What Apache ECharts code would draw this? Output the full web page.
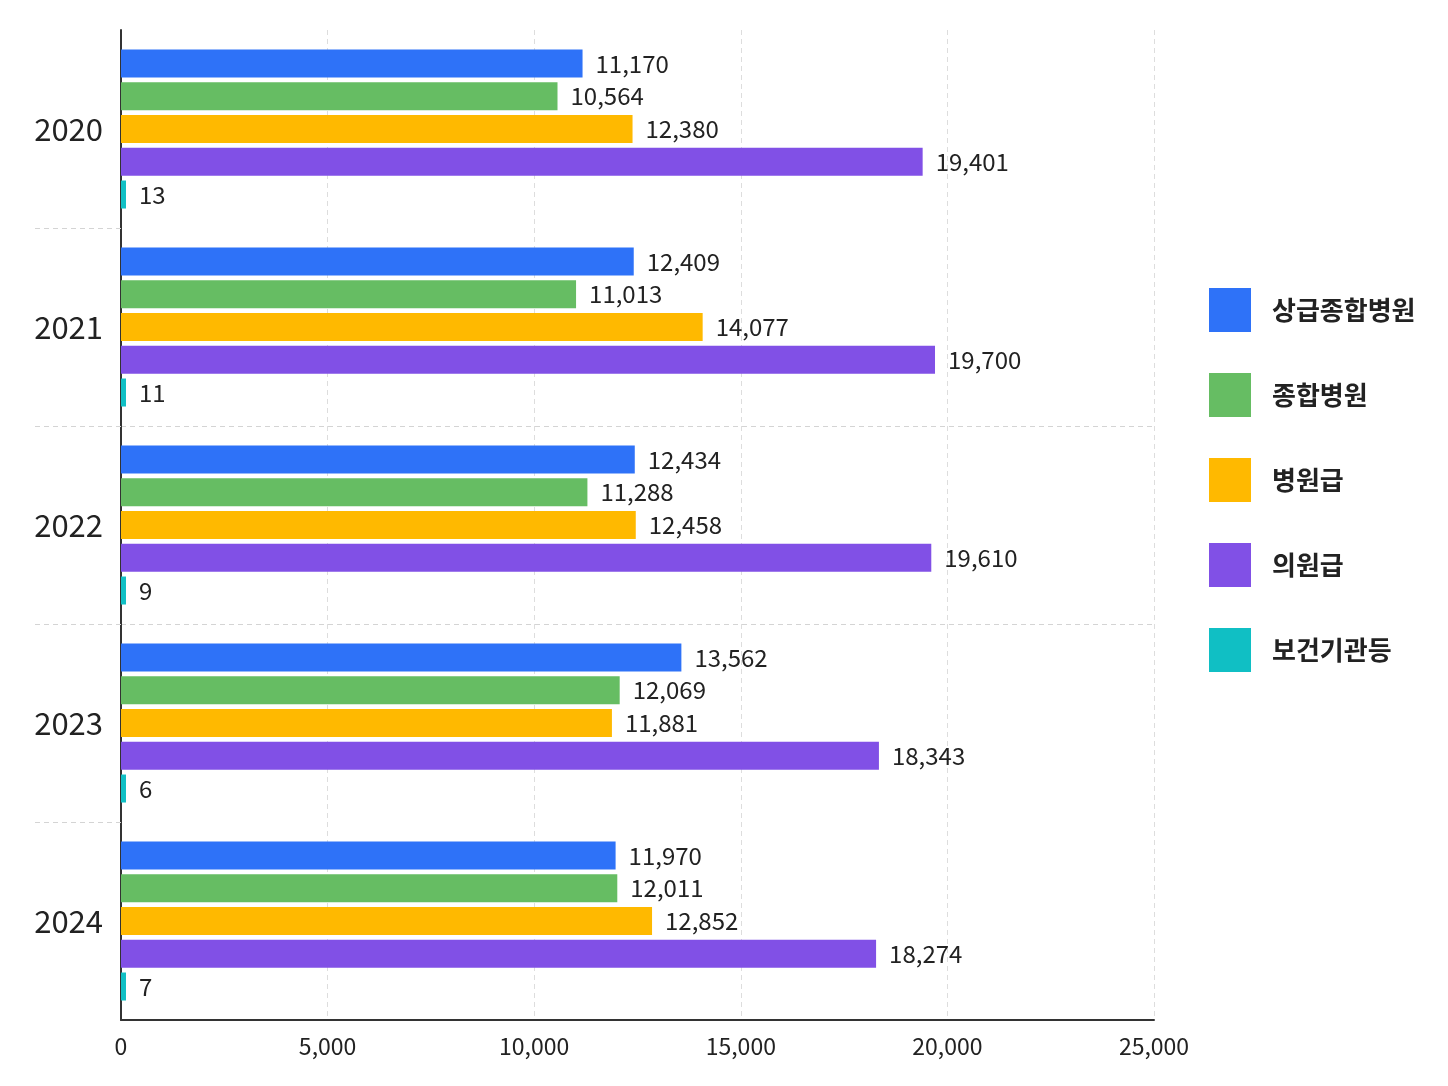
<!DOCTYPE html>
<html><head><meta charset="utf-8">
<script src="https://cdn.jsdelivr.net/npm/echarts@6/dist/echarts.min.js"></script>
<style>html,body{margin:0;padding:0;background:#fff}#c{width:1448px;height:1086px}</style>
</head><body><div id="c"></div>
<script>
const years = ['2020','2021','2022','2023','2024'];
const seriesNames = ['상급종합병원','종합병원','병원급','의원급','보건기관등'];
const tertiary = [11170, 12409, 12434, 13562, 11970];
const general = [10564, 11013, 11288, 12069, 12011];
const hospital = [12380, 14077, 12458, 11881, 12852];
const clinic = [19401, 19700, 19610, 18343, 18274];
const publicHealth = [13, 11, 9, 6, 7];
const xTicks = [0, 5000, 10000, 15000, 20000, 25000];
const separators = [1, 2, 3, 4];
const colors = ['#2e72f8','#66bd63','#ffb900','#8150e6','#10bfc4'];
const font = '"Noto Sans CJK KR", "Noto Sans", sans-serif';
const values = [tertiary, general, hospital, clinic, publicHealth];
const dashStyle = {type: [5, 4], color: '#d4d4d4', width: 1};
const chart = echarts.init(document.getElementById('c'));
chart.setOption({
  animation: false,
  textStyle: {fontFamily: font},
  grid: {left: 121, right: 294, top: 30, bottom: 66, containLabel: false},
  legend: {
    orient: 'vertical', left: 1204, top: 283,
    itemWidth: 42, itemHeight: 44, itemGap: 41,
    icon: 'rect',
    data: seriesNames,
    textStyle: {fontSize: 26, color: '#222', fontWeight: 'bold', fontFamily: font, padding: [0,0,0,16]}
  },
  xAxis: {
    type: 'value', min: xTicks[0], max: xTicks[xTicks.length-1], interval: 5000,
    axisLine: {show: true, onZero: false, lineStyle: {color: '#333', width: 2}},
    axisTick: {show: false},
    axisLabel: {fontSize: 23, color: '#222', margin: 15, formatter: v => v.toLocaleString('en-US')},
    splitLine: {show: true, lineStyle: {type: [5, 4], color: '#dddddd', width: 1}}
  },
  yAxis: [{
    type: 'category', data: years, inverse: true,
    axisLine: {show: true, onZero: false, lineStyle: {color: '#333', width: 2}},
    axisTick: {show: false},
    axisLabel: {fontSize: 31, color: '#222', margin: 18},
    splitLine: {show: false}
  }, {
    type: 'value', min: 0, max: years.length, inverse: true, position: 'left',
    axisLine: {show: false, onZero: false},
    axisLabel: {show: false},
    axisTick: {show: true, length: 86, customValues: separators, lineStyle: dashStyle},
    splitLine: {show: true, showMinLine: false, showMaxLine: false, lineStyle: dashStyle}
  }],
  series: seriesNames.map((n, i) => ({
    name: n, type: 'bar', data: values[i], yAxisIndex: 0,
    barWidth: 28, barGap: '17%',
    barMinHeight: i === 4 ? 5 : 0,
    itemStyle: {color: colors[i]},
    label: {show: true, position: 'right', distance: 13, fontSize: 24, color: '#222',
      formatter: p => p.value.toLocaleString('en-US')}
  }))
});
</script></body></html>
